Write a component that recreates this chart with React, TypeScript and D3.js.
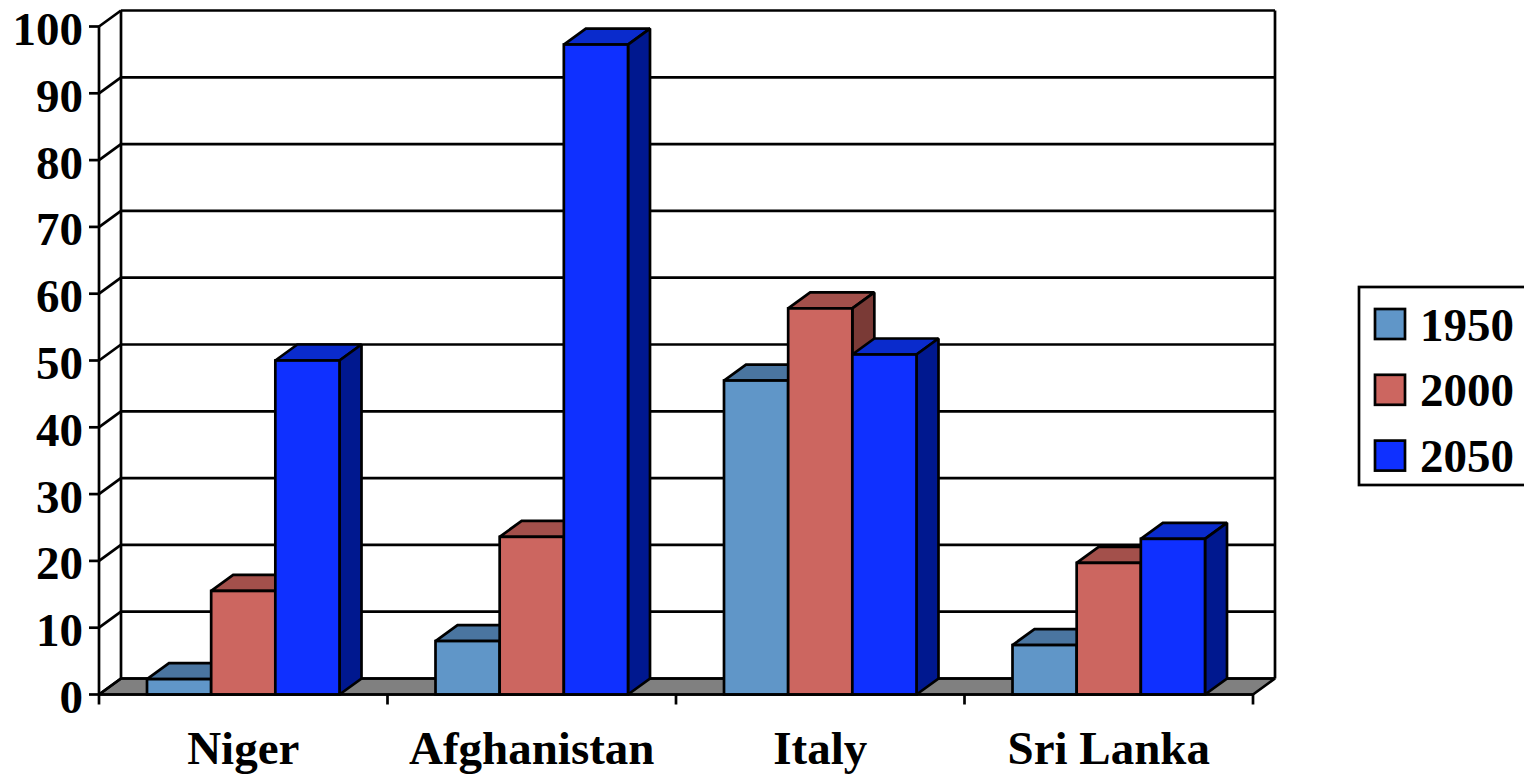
import React from "react";
import * as d3 from "d3";

// Population in millions per country and year
const countries = ["Niger", "Afghanistan", "Italy", "Sri Lanka"];
const years = ["1950", "2000", "2050"];
const values1950 = [2.3, 8, 47, 7.4];
const values2000 = [15.5, 23.6, 57.8, 19.7];
const values2050 = [50, 97.3, 50.9, 23.3];
const yTicks = [0, 10, 20, 30, 40, 50, 60, 70, 80, 90, 100];

const seriesValues = [values1950, values2000, values2050];
const frontColors = ["#6096C8", "#CC6660", "#0F30FF"];
const topColors = ["#4A75A0", "#A3504B", "#0A2BCC"];
const sideColors = ["#3E6186", "#7A3A36", "#00188F"];

const WIDTH = 1524;
const HEIGHT = 776;
const DX = 22;
const DY = -16;
const STROKE = 2.7;
const FONT = "'Liberation Serif', 'Times New Roman', serif";
const FONT_SIZE = 47;

export default function App() {
  const x = d3.scaleBand<string>().domain(countries).range([99, 1253]);
  const y = d3.scaleLinear().domain([0, 100]).range([694.5, 26.5]);
  const inner = d3
    .scaleBand<string>()
    .domain(years)
    .range([48, x.bandwidth() - 48]);
  const poly = (pts: [number, number][]) => pts.map((p) => p.join(",")).join(" ");
  const line = { stroke: "#000", strokeWidth: STROKE, fill: "none" } as const;
  const [x0, x1] = x.range();
  const y0 = y(0);
  const yTop = y(100);

  return (
    <div style={{ position: "fixed", left: 0, top: 0 }}>
      <svg width={WIDTH} height={HEIGHT} style={{ display: "block", background: "#fff" }}>
        {/* Floor of the 3D plot */}
        <polygon
          points={poly([[x0, y0], [x0 + DX, y0 + DY], [x1 + DX, y0 + DY], [x1, y0]])}
          fill="#808080"
          stroke="#000"
          strokeWidth={STROKE}
          strokeLinejoin="bevel"
        />

        {/* Gridlines on the back and side walls */}
        {yTicks.map((t) => (
          <g key={t}>
            <line x1={x0 + DX} x2={x1 + DX} y1={y(t) + DY} y2={y(t) + DY} {...line} />
            <line x1={x0} x2={x0 + DX} y1={y(t)} y2={y(t) + DY} {...line} />
            <line x1={x0 - 10} x2={x0} y1={y(t)} y2={y(t)} {...line} />
            <text
              x={83}
              y={y(t) + 18.5}
              textAnchor="end"
              fontFamily={FONT}
              fontWeight="bold"
              fontSize={FONT_SIZE}
              fill="#000"
            >
              {t}
            </text>
          </g>
        ))}
        <line x1={x0} x2={x0} y1={yTop} y2={y0} {...line} />
        <line x1={x0 + DX} x2={x0 + DX} y1={yTop + DY} y2={y0 + DY} {...line} />
        <line x1={x1 + DX} x2={x1 + DX} y1={yTop + DY} y2={y0 + DY} {...line} />

        {/* Extruded bars, drawn left to right so each hides its neighbour's side */}
        {countries.map((c, ci) =>
          years.map((yr, si) => {
            const left = (x(c) as number) + (inner(yr) as number);
            const right = left + inner.bandwidth();
            const top = y(seriesValues[si][ci]);
            return (
              <g key={c + yr} stroke="#000" strokeWidth={STROKE} strokeLinejoin="miter" strokeMiterlimit={1.5}>
                <polygon
                  points={poly([[left, top], [left + DX, top + DY], [right + DX, top + DY], [right, top]])}
                  fill={topColors[si]}
                />
                <polygon
                  points={poly([[right, top], [right + DX, top + DY], [right + DX, y0 + DY], [right, y0]])}
                  fill={sideColors[si]}
                />
                <rect x={left} y={top} width={right - left} height={y0 - top} fill={frontColors[si]} />
              </g>
            );
          })
        )}

        {/* Category axis */}
        <line x1={x0} x2={x1} y1={y0} y2={y0} {...line} />
        {[...countries.map((c) => x(c) as number), x1].map((tx) => (
          <line key={tx} x1={tx} x2={tx} y1={y0} y2={y0 + 10} {...line} />
        ))}
        {countries.map((c) => (
          <text
            key={c}
            x={(x(c) as number) + x.bandwidth() / 2}
            y={763.5}
            textAnchor="middle"
            fontFamily={FONT}
            fontWeight="bold"
            fontSize={FONT_SIZE}
            fill="#000"
          >
            {c}
          </text>
        ))}

        {/* Legend */}
        <rect x={1359} y={287} width={200} height={198} fill="#fff" stroke="#000" strokeWidth={STROKE} />
        {years.map((yr, i) => (
          <g key={yr}>
            <rect
              x={1375}
              y={309 + i * 65.8}
              width={30}
              height={30}
              fill={frontColors[i]}
              stroke="#000"
              strokeWidth={STROKE}
            />
            <text
              x={1420}
              y={340.5 + i * 65.8}
              fontFamily={FONT}
              fontWeight="bold"
              fontSize={FONT_SIZE}
              fill="#000"
            >
              {yr}
            </text>
          </g>
        ))}
      </svg>
    </div>
  );
}
